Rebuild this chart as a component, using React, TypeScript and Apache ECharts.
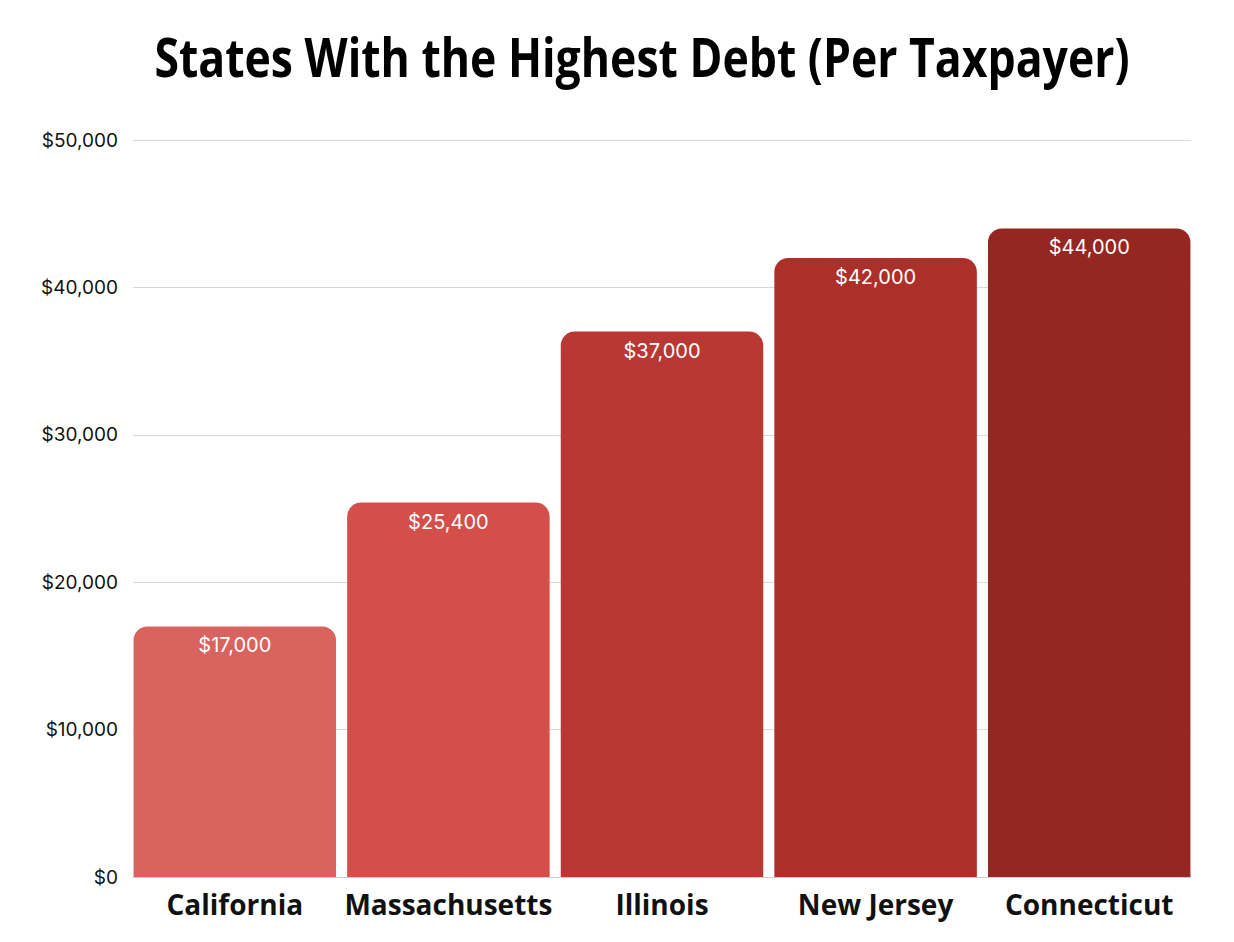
import React, { useEffect, useRef } from "react";
import * as echarts from "echarts";

const categories = ["California", "Massachusetts", "Illinois", "New Jersey", "Connecticut"];
const values = [17000, 25400, 37000, 42000, 44000];
const barColors = ["#D9635F", "#D44F4A", "#BA3833", "#AD2F29", "#962621"];
const yTicks = [0, 10000, 20000, 30000, 40000, 50000];
const titleText = "States With the Highest Debt (Per Taxpayer)";

const fmt = (v: number) => "$" + v.toLocaleString("en-US");

export default function App() {
  const ref = useRef<HTMLDivElement>(null);
  useEffect(() => {
    if (!ref.current) return;
    const chart = echarts.init(ref.current, null, { renderer: "svg" });
    const yMin = yTicks[0];
    const yMax = yTicks[yTicks.length - 1];
    chart.setOption({
      animation: false,
      backgroundColor: "#ffffff",
      graphic: [
        {
          type: "text",
          x: 642,
          y: 56,
          scaleX: 0.825,
          style: {
            text: titleText,
            fontFamily: "Open Sans",
            fontWeight: "bold",
            fontSize: 54,
            fill: "#000000",
            align: "center",
            verticalAlign: "middle",
          },
        },
      ],
      grid: [
        { left: 133, right: 43, top: 140, bottom: 65 },
        { left: 128, right: 38, top: 140, bottom: 65 },
      ],
      xAxis: [
        {
          type: "category",
          gridIndex: 0,
          data: categories,
          axisLine: { show: true, lineStyle: { color: "#cccccc", width: 1 } },
          axisTick: { show: false },
          axisLabel: { show: false },
        },
        {
          type: "category",
          gridIndex: 1,
          data: categories,
          axisLine: { show: false },
          axisTick: { show: false },
          axisLabel: {
            interval: 0,
            fontFamily: "Open Sans",
            fontWeight: "bold",
            fontSize: 28,
            color: "#111111",
            margin: 13,
          },
        },
      ],
      yAxis: [
        {
          type: "value",
          gridIndex: 0,
          min: yMin,
          max: yMax,
          interval: 10000,
          axisLine: { show: false },
          axisTick: { show: false },
          splitLine: { lineStyle: { color: "#d9d9d9", width: 1 } },
          axisLabel: {
            fontFamily: "Inter",
            fontSize: 19,
            color: "#111111",
            margin: 15,
            formatter: (v: number) => fmt(v),
          },
        },
        {
          type: "value",
          gridIndex: 1,
          min: yMin,
          max: yMax,
          interval: 10000,
          show: false,
        },
      ],
      series: [
        {
          type: "bar",
          xAxisIndex: 1,
          yAxisIndex: 1,
          data: values.map((v, i) => ({ value: v, itemStyle: { color: barColors[i] } })),
          barCategoryGap: "5.2%",
          itemStyle: { borderRadius: [14, 14, 0, 0] },
          label: {
            show: true,
            position: "insideTop",
            distance: 9,
            fontFamily: "Inter",
            fontSize: 20,
            color: "#ffffff",
            formatter: (p: any) => fmt(p.value),
          },
        },
      ],
    });
    return () => chart.dispose();
  }, []);
  return (
    <div
      ref={ref}
      style={{ position: "fixed", left: 0, top: 0, width: 1234, height: 942 }}
    />
  );
}
